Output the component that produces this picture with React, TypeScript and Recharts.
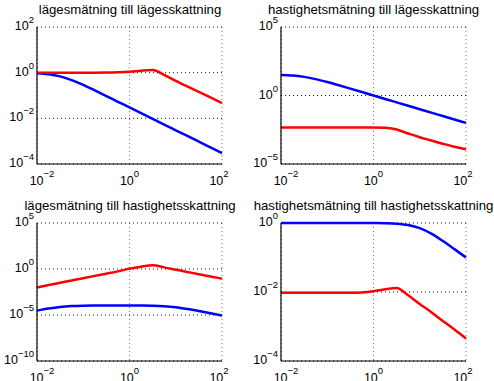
import { LineChart, Line, XAxis, YAxis, CartesianGrid } from 'recharts';

const freq = [0.01, 0.0178, 0.0316, 0.0562, 0.1, 0.178, 0.316, 0.562, 1, 1.78, 3.16, 5.62, 10, 17.8, 31.6, 56.2, 100];

// lägesmätning till lägesskattning
const p1Red = [1.0, 1.0, 1.0, 1.0, 1.0, 1.0, 1.01, 1.04, 1.1, 1.22, 1.3, 0.8, 0.44, 0.25, 0.145, 0.083, 0.047];
const p1Blue = [0.95, 0.86, 0.69, 0.47, 0.29, 0.166, 0.094, 0.053, 0.03, 0.0169, 0.0095, 0.0053, 0.003, 0.0017, 0.00095, 0.00053, 0.0003];

// hastighetsmätning till lägesskattning
const p2Red = [0.0047, 0.0047, 0.0047, 0.0047, 0.0047, 0.0047, 0.0047, 0.0047, 0.0047, 0.0045, 0.0033, 0.0017, 0.0009, 0.00052, 0.0003, 0.00018, 0.00012];
const p2Blue = [31.6, 28.9, 22.9, 15.7, 9.6, 5.54, 3.15, 1.78, 1.0, 0.56, 0.316, 0.178, 0.1, 0.056, 0.0316, 0.0178, 0.01];

// lägesmätning till hastighetsskattning
const p3Red = [0.01, 0.0178, 0.0316, 0.056, 0.1, 0.178, 0.31, 0.55, 1.1, 1.8, 2.5, 1.5, 0.85, 0.48, 0.27, 0.155, 0.09];
const p3Blue = [3.0e-5, 5.0e-5, 7.4e-5, 9.3e-5, 1.04e-4, 1.08e-4, 1.1e-4, 1.1e-4, 1.09e-4, 1.07e-4, 1.02e-4, 9.0e-5, 6.9e-5, 4.5e-5, 2.7e-5, 1.55e-5, 8.8e-6];

// hastighetsmätning till hastighetsskattning
const p4Red = [0.0095, 0.0095, 0.0095, 0.0095, 0.0095, 0.0095, 0.0095, 0.0097, 0.0105, 0.012, 0.013, 0.008, 0.0045, 0.0026, 0.00145, 0.00082, 0.00045];
const p4Blue = [1.0, 1.0, 1.0, 1.0, 1.0, 1.0, 1.0, 1.0, 0.995, 0.984, 0.953, 0.87, 0.707, 0.49, 0.3, 0.175, 0.1];

const xTicks = [0.01, 1, 100];
const p1Ticks = [1e-4, 1e-2, 1, 1e2];
const p2Ticks = [1e-5, 1, 1e5];
const p3Ticks = [1e-10, 1e-5, 1, 1e5];
const p4Ticks = [1e-4, 1e-2, 1];

const titles = [
  'lägesmätning till lägesskattning',
  'hastighetsmätning till lägesskattning',
  'lägesmätning till hastighetsskattning',
  'hastighetsmätning till hastighetsskattning',
];

const FONT = '"Liberation Sans", Arial, Helvetica, sans-serif';

// exponent with a real minus sign, like the plot labels
const expOf = (v: number) => String(Math.round(Math.log10(v))).replace('-', '\u2212');

function YTick({ x, y, payload }: any) {
  return (
    <text x={x} y={y + 3} textAnchor="end" fontSize={12.5} fill="#000" fontFamily={FONT}>
      10<tspan dy={-7} fontSize={9.5}>{expOf(payload.value)}</tspan>
    </text>
  );
}

function XTick({ x, y, payload, index }: any) {
  const shift = index === 0 ? 5 : index === 2 ? -3 : 0;
  return (
    <text x={x + shift} y={y + 21} textAnchor="middle" fontSize={12.5} fill="#000" fontFamily={FONT}>
      10<tspan dy={-8} fontSize={9.5}>{expOf(payload.value)}</tspan>
    </text>
  );
}

interface PanelProps {
  red: number[];
  blue: number[];
  yTicks: number[];
  left: number;
  top: number;
  height: number;
  marginTop: number;
  xHeight: number;
}

function Panel({ red, blue, yTicks, left, top, height, marginTop, xHeight }: PanelProps) {
  const data = freq.map((f, i) => ({ f, red: red[i], blue: blue[i] }));
  const yDomain = [yTicks[0], yTicks[yTicks.length - 1]];
  const box = { stroke: '#000', strokeWidth: 1.2 };
  return (
    <div style={{ position: 'absolute', left, top }}>
      <LineChart width={247} height={height} data={data} margin={{ top: marginTop, right: 25, left: 0, bottom: 0 }}>
        <CartesianGrid horizontal={false} stroke="#777" strokeDasharray="1 3" />
        <CartesianGrid vertical={false} stroke="#111" strokeDasharray="1 3" />
        <XAxis
          dataKey="f"
          type="number"
          scale="log"
          domain={[0.01, 100]}
          ticks={xTicks}
          height={xHeight}
          tickSize={0}
          tickMargin={0}
          tick={<XTick />}
          axisLine={box}
          tickLine={false}
        />
        <XAxis
          xAxisId="top"
          orientation="top"
          dataKey="f"
          type="number"
          scale="log"
          domain={[0.01, 100]}
          height={0}
          tick={false}
          tickLine={false}
          axisLine={box}
        />
        <YAxis
          type="number"
          scale="log"
          domain={yDomain}
          ticks={yTicks}
          width={37}
          tickSize={0}
          tickMargin={3}
          tick={<YTick />}
          axisLine={box}
          tickLine={false}
        />
        <YAxis
          yAxisId="right"
          orientation="right"
          type="number"
          scale="log"
          domain={yDomain}
          width={0}
          tick={false}
          tickLine={false}
          axisLine={box}
        />
        <Line type="monotone" dataKey="blue" stroke="#0000ff" strokeWidth={2.5} dot={false} isAnimationActive={false} />
        <Line type="monotone" dataKey="red" stroke="#ff0000" strokeWidth={2.5} dot={false} isAnimationActive={false} />
      </LineChart>
    </div>
  );
}

export default function App() {
  return (
    <div style={{ position: 'absolute', left: 0, top: 0, width: 494, height: 381, background: '#fff', overflow: 'hidden' }}>
      <Panel red={p1Red} blue={p1Blue} yTicks={p1Ticks} left={0} top={0} height={190} marginTop={27} xHeight={26} />
      <Panel red={p2Red} blue={p2Blue} yTicks={p2Ticks} left={244} top={0} height={190} marginTop={27} xHeight={26} />
      <Panel red={p3Red} blue={p3Blue} yTicks={p3Ticks} left={0} top={190} height={191} marginTop={33} xHeight={20} />
      <Panel red={p4Red} blue={p4Blue} yTicks={p4Ticks} left={244} top={190} height={191} marginTop={33} xHeight={20} />
      <svg width={494} height={381} style={{ position: 'absolute', left: 0, top: 0, pointerEvents: 'none' }}>
        <text x={130} y={14} textAnchor="middle" fontSize={13.2} fontFamily={FONT} fill="#000">{titles[0]}</text>
        <text x={373.5} y={14} textAnchor="middle" fontSize={13.2} fontFamily={FONT} fill="#000">{titles[1]}</text>
        <text x={130} y={210} textAnchor="middle" fontSize={13.2} fontFamily={FONT} fill="#000">{titles[2]}</text>
        <text x={373.5} y={210} textAnchor="middle" fontSize={13.2} fontFamily={FONT} fill="#000">{titles[3]}</text>
      </svg>
    </div>
  );
}
